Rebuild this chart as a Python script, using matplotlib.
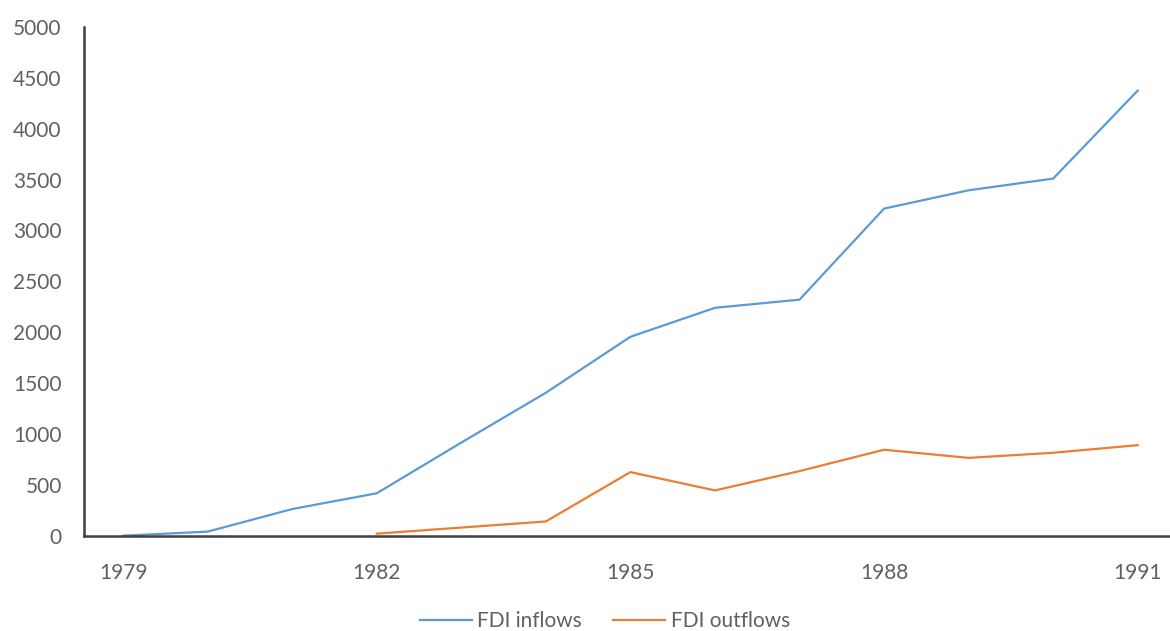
import matplotlib
matplotlib.use("Agg")
import matplotlib.pyplot as plt

years = [1979, 1980, 1981, 1982, 1983, 1984, 1985, 1986, 1987, 1988, 1989, 1990, 1991]
fdi_inflows = [0, 40, 262, 417, 915, 1405, 1955, 2240, 2320, 3215, 3395, 3510, 4375]
outflow_years = [1982, 1983, 1984, 1985, 1986, 1987, 1988, 1989, 1990, 1991]
fdi_outflows = [20, 80, 140, 625, 445, 635, 845, 765, 815, 890]
y_ticks = [0, 500, 1000, 1500, 2000, 2500, 3000, 3500, 4000, 4500, 5000]
x_tick_labels = [1979, 1982, 1985, 1988, 1991]

plt.rcParams["font.family"] = ["Lato", "DejaVu Sans"]

W, H = 1170, 631
FS = 15
fig = plt.figure(figsize=(W / 100, H / 100), dpi=100)
ax = fig.add_axes([84 / W, 95.3 / H, (1180 - 84) / W, 508.7 / H])

idx_in = [years.index(y) for y in years]
idx_out = [years.index(y) for y in outflow_years]

ax.plot(idx_in, fdi_inflows, color="#5B9BD5", lw=1.6, label="FDI inflows",
        solid_joinstyle="round")
ax.plot(idx_out, fdi_outflows, color="#ED7D31", lw=1.6, label="FDI outflows",
        solid_joinstyle="round")

ax.set_xlim(-0.462, 12.5)
ax.set_ylim(0, 5000)
ax.set_yticks(y_ticks)
ax.set_yticklabels([str(v) for v in y_ticks])
ax.set_xticks([years.index(y) for y in x_tick_labels])
ax.set_xticklabels([str(y) for y in x_tick_labels])

for side in ("top", "right"):
    ax.spines[side].set_visible(False)
for side in ("left", "bottom"):
    ax.spines[side].set_color("#404040")
    ax.spines[side].set_linewidth(1.8)

ax.tick_params(axis="both", length=0, labelsize=FS, labelcolor="#606060")
ax.tick_params(axis="y", pad=16)
ax.tick_params(axis="x", pad=20)

fig.legend(loc="center", bbox_to_anchor=(605 / W, 1 - 621 / H), ncol=2,
           frameon=False, fontsize=FS, labelcolor="#606060",
           handlelength=2.5, handletextpad=0.25, columnspacing=1.5,
           borderpad=0, borderaxespad=0)

fig.savefig("out.png", dpi=100)
